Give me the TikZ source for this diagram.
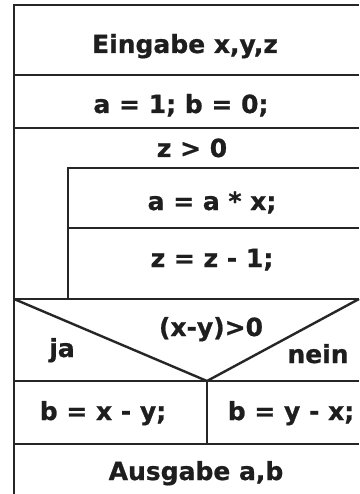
\documentclass[tikz,border=0pt]{standalone}
\usepackage{fontspec}
\setmainfont{DejaVu Sans}[BoldFeatures={FakeBold=0.8}]
\definecolor{ink}{HTML}{1E1E1E}
\definecolor{rule}{HTML}{262626}
\begin{document}
\begin{tikzpicture}[x=1pt,y=-1pt,
  line/.style={draw=rule,line width=2.4pt},
  lbl/.style={text=ink,font=\fontsize{25}{30}\selectfont\bfseries,inner sep=0pt,anchor=base}]
\useasboundingbox (0,0) rectangle (359,494);
\fill[white] (0,0) rectangle (359,494);
% coordinates
\coordinate (TL) at (14,5);   \coordinate (TR) at (359,5);
\coordinate (L1) at (14,75);  \coordinate (R1) at (359,75);
\coordinate (L2) at (14,128); \coordinate (R2) at (359,128);
\coordinate (I1) at (68,168); \coordinate (R3) at (359,168);
\coordinate (I2) at (68,228); \coordinate (R4) at (359,228);
\coordinate (I3) at (68,299);
\coordinate (L5) at (14,299); \coordinate (R5) at (359,299);
\coordinate (AP) at (207,381);
\coordinate (L6) at (14,381); \coordinate (R6) at (359,381);
\coordinate (L7) at (14,444); \coordinate (R7) at (359,444);
\coordinate (D7) at (207,444);
\coordinate (LB) at (14,494);
% lines
\draw[line] (TR) -- (TL) -- (LB);
\draw[line] (L1) -- (R1);
\draw[line] (L2) -- (R2);
\draw[line] (R3) -- (I1) -- (I3);
\draw[line] (I2) -- (R4);
\draw[line] (L5) -- (R5);
\draw[line] (L5) -- (AP) -- (R5);
\draw[line] (L6) -- (R6);
\draw[line] (AP) -- (D7);
\draw[line] (L7) -- (R7);
% texts
\node[lbl] (t1) at (185,53) {Eingabe x,y,z};
\node[lbl] (t2) at (181,113) {a = 1; b = 0;};
\node[lbl] (t3) at (192,157) {z > 0};
\node[lbl] (t4) at (212,210) {a = a * x;};
\node[lbl] (t5) at (212,267) {z = z - 1;};
\node[lbl] (t6) at (211,336) {(x-y)>0};
\node[lbl] (t7) at (62,357) {ja};
\node[lbl] (t8) at (318,363) {nein};
\node[lbl] (t9) at (103,420) {b = x - y;};
\node[lbl] (t10) at (291,420) {b = y - x;};
\node[lbl] (t11) at (196,480) {Ausgabe a,b};
\end{tikzpicture}
\end{document}
